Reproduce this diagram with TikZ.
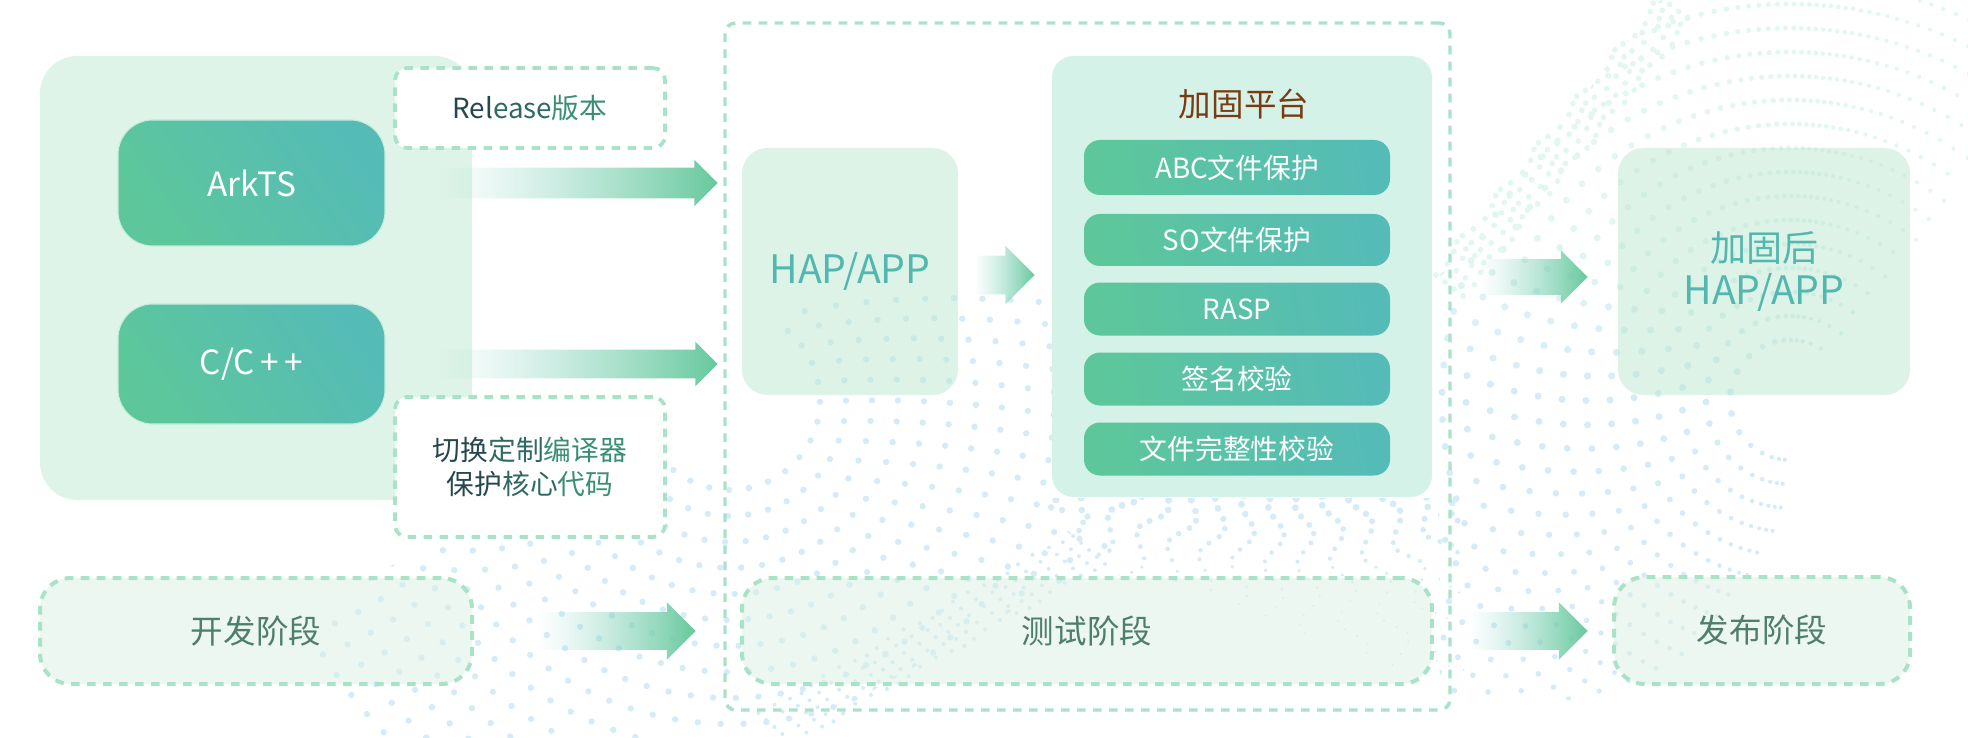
\documentclass[tikz,border=0pt]{standalone}
\usepackage{fontspec}
\setmainfont{Noto Sans CJK SC}
\usetikzlibrary{shapes.arrows,fadings}

\definecolor{dashgreen}{HTML}{A8E3C8}
\definecolor{panelgreen}{HTML}{DEF4E8}
\definecolor{platgreen}{HTML}{D5F2E8}
\definecolor{softgreen}{HTML}{BDE7D1}
\definecolor{stagegreen}{HTML}{DBEFE3}
\definecolor{btnleft}{HTML}{5DC79B}
\definecolor{btnright}{HTML}{55BBB7}
\definecolor{btnedge}{HTML}{C6ECDC}
\definecolor{hapteal}{HTML}{52B8AF}
\definecolor{stagetext}{HTML}{4E7E6C}
\definecolor{titlebrown}{HTML}{7A3B12}
\definecolor{inkA}{HTML}{27474F}
\definecolor{inkB}{HTML}{2F6A62}
\definecolor{inkC}{HTML}{3A8E74}
\definecolor{dotblue}{HTML}{D5ECF8}
\definecolor{dotmint}{HTML}{E2F7F2}
\definecolor{arrowmid}{HTML}{9ADACF}
\definecolor{arrowhead}{HTML}{66C89C}

\tikzfading[name=arrowfade,left color=transparent!100,right color=transparent!0]

\tikzset{
	boxsize/.style 2 args={minimum width=#1*0.75pt,minimum height=#2*0.75pt,inner sep=0pt,align=center},
	panelbox/.style={fill=panelgreen,rounded corners=28pt},
	softbox/.style={fill=softgreen,fill opacity=0.5,text opacity=1,rounded corners=19pt,text=hapteal,font=\fontsize{27}{32}\selectfont},
	btnbox/.style={draw=btnedge,line width=0.8pt,left color=btnleft,right color=btnright,shading angle=125,rounded corners=26pt,text=white,font=\fontsize{25}{30}\selectfont},
	itembox/.style={left color=btnleft,right color=btnright,shading angle=100,rounded corners=12pt,text=white,font=\fontsize{20.8}{25}\selectfont},
	notebox/.style={draw=dashgreen,line width=2.8pt,dash pattern=on 6.5pt off 5.5pt,fill=white,rounded corners=9pt,font=\fontsize{20.8}{25}\selectfont},
	stagebox/.style={draw=dashgreen,line width=3pt,dash pattern=on 6.5pt off 5.5pt,fill=stagegreen,fill opacity=0.5,draw opacity=1,text opacity=1,rounded corners=23pt,text=stagetext,font=\fontsize{24.4}{29}\selectfont},
	gradarrow/.style n args={3}{shape=single arrow,shape border rotate=0,single arrow tip angle=90,single arrow head indent=0pt,
		single arrow head extend=#3*0.75pt,minimum height=#1*0.75pt,inner xsep=0pt,inner ysep=#2*0.375pt,
		left color=arrowmid,right color=arrowhead,path fading=arrowfade,anchor=tip},
}

\begin{document}
\begin{tikzpicture}[x=0.75pt,y=0.75pt,yscale=-1]
	\useasboundingbox (0,0) rectangle (1968,738);

	% Dots: fan on the right
	\begin{scope}
		\clip (1436,280) -- (1660,0) -- (1968,0) -- (1968,230) -- (1700,650) -- (1600,700) -- (1440,700) -- cycle;
		\foreach \rr in {60,84,...,570} {
			\pgfmathsetmacro\astep{(13+\rr*0.012)/\rr*57.3}
			\pgfmathsetmacro\anext{95+\astep}
			\foreach \tp in {95,\anext,...,325} {
				\pgfmathsetmacro\aa{\tp-17*sin(2*(\tp-95))}
				\pgfmathsetmacro\dotx{1790+\rr*cos(\aa)}
				\pgfmathsetmacro\doty{400+\rr*sin(\aa)}
				\pgfmathsetmacro\dotr{2.1+1.5*max(0,cos(\aa-195))}
				\pgfmathsetmacro\mixv{max(0,min(100,(\doty-220)*0.6))}
				\fill [color=dotblue!\mixv!dotmint] (\dotx,\doty) circle (\dotr);
			}
		}
	\end{scope}

	% Dots: fan on the left
	\begin{scope}
		\clip (1060,295) -- (740,295) -- (660,350) -- (640,540) -- (430,540) -- (355,590) -- (240,738) -- (790,738) -- (1110,555) -- cycle;
		\foreach \rr in {90,116,...,480} {
			\pgfmathsetmacro\astep{(19+\rr*0.012)/\rr*57.3}
			\pgfmathsetmacro\anext{-50+\astep}
			\foreach \aa in {-50,\anext,...,240} {
				\pgfmathsetmacro\dotx{730+\rr*cos(\aa)}
				\pgfmathsetmacro\doty{400+\rr*sin(\aa)}
				\fill [color=dotblue] (\dotx,\doty) circle (3.2);
			}
		}
	\end{scope}

	% Dots: rays under the platform
	\begin{scope}
		\clip (1040,498) -- (1465,498) -- (1465,700) -- (1420,685) -- (1200,590) -- (1100,572) -- cycle;
		\foreach \aa in {32,38,...,150} {
			\foreach \rr in {240,249,...,480} {
				\pgfmathsetmacro\ab{\aa+1.8*sin(\rr*6)}
				\pgfmathsetmacro\dotx{1285+\rr*cos(\ab)}
				\pgfmathsetmacro\doty{250+\rr*sin(\ab)}
				\pgfmathsetmacro\dotr{max(1.1,3.6-(\doty-500)*0.025)}
				\fill [color=dotblue] (\dotx,\doty) circle (\dotr);
			}
		}
	\end{scope}

	% Dots: two dense streaks
	\foreach \ss in {0,...,24} {
		\foreach \ww in {0,...,4} {
			\pgfmathsetmacro\dotx{1105-\ss*13-\ww*8+3*sin(\ss*70)}
			\pgfmathsetmacro\doty{562+\ss*7.5-\ww*7+2*cos(\ss*70)}
			\fill [color=dotblue] (\dotx,\doty) circle (2);
		}
	}
	\foreach \ss in {0,...,30} {
		\foreach \ww in {0,...,3} {
			\pgfmathsetmacro\dotx{1436+\ss*7.6+\ww*9+4*sin(\ss*70)}
			\pgfmathsetmacro\doty{272-\ss*9.2+\ww*7+3*cos(\ss*70)}
			\ifdim \doty pt>0pt
				\fill [color=dotmint] (\dotx,\doty) circle (2.9);
			\fi
		}
	}

	%Shape: development side
	\node [panelbox,boxsize={432}{444}] (devpanel) at (256,278) {};
	\node [btnbox,boxsize={267}{126}] (arkts) at (251.5,183) {ArkTS};
	\node [btnbox,boxsize={267}{120}] (ccpp) at (251.5,364) {C/C\,+\,+};
	\node [notebox,boxsize={270}{80}] (release) at (530,108) {{\color{inkA}Rel}{\color{inkB}ease}{\color{inkC}版本}};
	\node [notebox,boxsize={270}{140}] (customnote) at (530,467) {{\color{inkA}切换}{\color{inkB}定制}{\color{inkC}编译器}\\{\color{inkA}保护}{\color{inkB}核心}{\color{inkC}代码}};

	%Shape: test frame
	\node [notebox,fill=none,line width=2.6pt,rounded corners=8pt,boxsize={725}{687}] (testframe) at (1087.5,366.5) {};
	\node [softbox,boxsize={216}{247}] (hap) at (850,271.5) {{\fontsize{29.4}{32}\selectfont HAP/APP}};

	%Shape: platform and its items
	\node [fill=platgreen,rounded corners=16pt,boxsize={380}{441}] (platform) at (1242,276.5) {};
	\node [text=titlebrown,font=\fontsize{24.4}{29}\selectfont,inner sep=0pt] (platformtitle) at (1244,104) {加固平台};
	\node [itembox,boxsize={306}{55}] (itemabc) at (1237,167.5) {ABC文件保护};
	\node [itembox,boxsize={306}{52}] (itemso) at (1237,240) {SO文件保护};
	\node [itembox,boxsize={306}{53}] (itemrasp) at (1237,309) {RASP};
	\node [itembox,boxsize={306}{53}] (itemsign) at (1237,379) {签名校验};
	\node [itembox,boxsize={306}{53}] (itemfile) at (1237,449) {文件完整性校验};

	%Shape: result
	\node [softbox,boxsize={292}{247}] (hardened) at (1764,271.5) {加固后\\{\fontsize{29.4}{32}\selectfont HAP/APP}};

	%Shape: stages
	\node [stagebox,boxsize={432}{106}] (stagedev) at (256,631) {开发阶段};
	\node [stagebox,boxsize={690}{106}] (stagetest) at (1087,631) {测试阶段};
	\node [stagebox,boxsize={296}{107}] (stagepub) at (1762,630.5) {发布阶段};

	%Arrows
	\node [gradarrow={279}{30}{8}] (arrowark) at (718,183) {};
	\node [gradarrow={279}{28}{8}] (arrowcpp) at (718,364) {};
	\node [gradarrow={158}{37}{10}] (arrowdev) at (696,631) {};
	\node [gradarrow={61}{38}{10}] (arrowhap) at (1035,275) {};
	\node [gradarrow={108}{35}{9}] (arrowout) at (1588,277) {};
	\node [gradarrow={119}{37}{10}] (arrowpub) at (1588,631) {};
\end{tikzpicture}
\end{document}
